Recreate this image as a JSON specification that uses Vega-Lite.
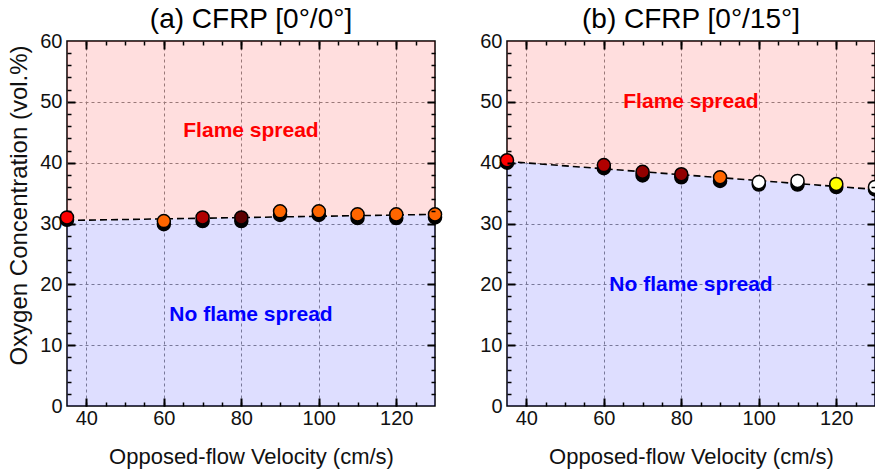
{
  "$schema": "https://vega.github.io/schema/vega-lite/v6.json",
  "autosize": {"type": "pad"},
  "padding": {"left": 7, "top": 5, "right": 0, "bottom": 3},
  "background": "white",
  "config": {
    "font": "Liberation Sans",
    "view": {"stroke": "black", "strokeWidth": 1.5},
    "title": {"fontSize": 28, "fontWeight": "normal", "font": "Liberation Sans", "color": "black", "offset": -3},
    "axis": {
      "labelFont": "Liberation Sans", "labelFontSize": 20, "labelColor": "#111",
      "titleFont": "Liberation Sans", "titleFontSize": 22, "titleFontWeight": "normal", "titleColor": "#111",
      "domain": false, "tickColor": "black", "tickWidth": 1.5, "tickOpacity": 1,
      "gridColor": "#8a8a8a", "gridDash": [3, 3], "gridWidth": 1
    }
  },
  "datasets": {
    "boundary": [
      {"p": "a", "v": 35, "o": 30.5},
      {"p": "a", "v": 130, "o": 31.5},
      {"p": "b", "v": 35, "o": 40.2},
      {"p": "b", "v": 130, "o": 35.6}
    ],
    "points": [
      {"p": "a", "v": 35, "o": 30.6, "s": "none"},
      {"p": "a", "v": 60, "o": 29.9, "s": "none"},
      {"p": "a", "v": 70, "o": 30.4, "s": "none"},
      {"p": "a", "v": 80, "o": 30.4, "s": "none"},
      {"p": "a", "v": 90, "o": 31.4, "s": "none"},
      {"p": "a", "v": 100, "o": 31.4, "s": "none"},
      {"p": "a", "v": 110, "o": 30.9, "s": "none"},
      {"p": "a", "v": 120, "o": 30.9, "s": "none"},
      {"p": "a", "v": 130, "o": 31.0, "s": "none"},
      {"p": "a", "v": 35, "o": 31.0, "s": "spread", "flame": "red"},
      {"p": "a", "v": 60, "o": 30.4, "s": "spread", "flame": "orange"},
      {"p": "a", "v": 70, "o": 31.0, "s": "spread", "flame": "crimson"},
      {"p": "a", "v": 80, "o": 31.0, "s": "spread", "flame": "maroon"},
      {"p": "a", "v": 90, "o": 32.0, "s": "spread", "flame": "orange"},
      {"p": "a", "v": 100, "o": 32.0, "s": "spread", "flame": "orange"},
      {"p": "a", "v": 110, "o": 31.5, "s": "spread", "flame": "orange"},
      {"p": "a", "v": 120, "o": 31.5, "s": "spread", "flame": "orange"},
      {"p": "a", "v": 130, "o": 31.5, "s": "spread", "flame": "orange"},
      {"p": "b", "v": 35, "o": 40.0, "s": "none"},
      {"p": "b", "v": 60, "o": 39.1, "s": "none"},
      {"p": "b", "v": 70, "o": 37.9, "s": "none"},
      {"p": "b", "v": 80, "o": 37.6, "s": "none"},
      {"p": "b", "v": 90, "o": 37.0, "s": "none"},
      {"p": "b", "v": 100, "o": 36.4, "s": "none"},
      {"p": "b", "v": 110, "o": 36.4, "s": "none"},
      {"p": "b", "v": 120, "o": 36.0, "s": "none"},
      {"p": "b", "v": 130, "o": 35.6, "s": "none"},
      {"p": "b", "v": 35, "o": 40.4, "s": "spread", "flame": "red"},
      {"p": "b", "v": 60, "o": 39.6, "s": "spread", "flame": "crimson"},
      {"p": "b", "v": 70, "o": 38.5, "s": "spread", "flame": "darkred"},
      {"p": "b", "v": 80, "o": 38.1, "s": "spread", "flame": "darkred"},
      {"p": "b", "v": 90, "o": 37.6, "s": "spread", "flame": "orange"},
      {"p": "b", "v": 100, "o": 36.8, "s": "spread", "flame": "white"},
      {"p": "b", "v": 110, "o": 37.0, "s": "spread", "flame": "white"},
      {"p": "b", "v": 120, "o": 36.5, "s": "spread", "flame": "yellow"},
      {"p": "b", "v": 130, "o": 36.0, "s": "spread", "flame": "white"}
    ],
    "labels": [
      {"p": "a", "v": 82.5, "o": 44.2, "text": "Flame spread", "kind": "spread"},
      {"p": "a", "v": 82.5, "o": 14.0, "text": "No flame spread", "kind": "none"},
      {"p": "b", "v": 82.5, "o": 49.0, "text": "Flame spread", "kind": "spread"},
      {"p": "b", "v": 82.5, "o": 18.9, "text": "No flame spread", "kind": "none"}
    ]
  },
  "spacing": 72,
  "bounds": "flush",
  "hconcat": [
    {
      "title": "(a) CFRP [0°/0°]",
      "width": 368,
      "height": 365,
      "resolve": {"axis": {"x": "independent", "y": "independent"}},
      "layer": [
        {
          "data": {"name": "boundary"},
          "transform": [{"filter": "datum.p == 'a'"}],
          "mark": {"type": "area", "color": "#ff0000", "opacity": 0.13},
          "encoding": {
            "x": {"field": "v", "type": "quantitative", "scale": {"domain": [35, 130], "nice": false, "zero": false},
              "axis": {"orient": "bottom", "title": null, "values": [40, 60, 80, 100, 120], "grid": true, "ticks": false, "labels": false, "minExtent": 0, "maxExtent": 0}},
            "y": {"field": "o", "type": "quantitative", "scale": {"domain": [0, 60], "nice": false, "zero": false},
              "axis": {"orient": "left", "title": null, "values": [10, 20, 30, 40, 50], "grid": true, "ticks": false, "labels": false, "minExtent": 0, "maxExtent": 0}},
            "y2": {"datum": 60}
          }
        },
        {
          "data": {"name": "boundary"},
          "transform": [{"filter": "datum.p == 'a'"}],
          "mark": {"type": "area", "color": "#0000ff", "opacity": 0.13},
          "encoding": {
            "x": {"field": "v", "type": "quantitative", "scale": {"domain": [35, 130], "nice": false, "zero": false},
              "axis": {"orient": "top", "title": null, "zindex": 1, "values": [40, 45, 50, 55, 60, 65, 70, 75, 80, 85, 90, 95, 100, 105, 110, 115, 120, 125], "grid": false, "labels": false, "ticks": true, "tickColor": "black", "tickWidth": 1.5, "tickSize": 4, "offset": -4, "minExtent": 0, "maxExtent": 0}},
            "y": {"field": "o", "type": "quantitative", "scale": {"domain": [0, 60], "nice": false, "zero": false},
              "axis": {"orient": "right", "title": null, "zindex": 1, "values": [2, 4, 6, 8, 12, 14, 16, 18, 22, 24, 26, 28, 32, 34, 36, 38, 42, 44, 46, 48, 52, 54, 56, 58], "grid": false, "labels": false, "ticks": true, "tickColor": "black", "tickWidth": 1.5, "tickSize": 4, "offset": -4, "minExtent": 0, "maxExtent": 0}},
            "y2": {"datum": 0}
          }
        },
        {
          "data": {"name": "boundary"},
          "transform": [{"filter": "datum.p == 'a'"}],
          "mark": {"type": "line", "color": "black", "strokeWidth": 1.6, "strokeDash": [7, 4]},
          "encoding": {
            "x": {"field": "v", "type": "quantitative",
              "axis": {"orient": "bottom", "title": null, "zindex": 1, "values": [40, 45, 50, 55, 60, 65, 70, 75, 80, 85, 90, 95, 100, 105, 110, 115, 120, 125], "grid": false, "labels": false, "ticks": true, "tickColor": "black", "tickWidth": 1.5, "tickSize": 4, "offset": -4, "minExtent": 0, "maxExtent": 0}},
            "y": {"field": "o", "type": "quantitative",
              "axis": {"orient": "left", "title": null, "zindex": 1, "values": [2, 4, 6, 8, 12, 14, 16, 18, 22, 24, 26, 28, 32, 34, 36, 38, 42, 44, 46, 48, 52, 54, 56, 58], "grid": false, "labels": false, "ticks": true, "tickColor": "black", "tickWidth": 1.5, "tickSize": 4, "offset": -4, "minExtent": 0, "maxExtent": 0}}
          }
        },
        {
          "data": {"name": "points"},
          "transform": [{"filter": "datum.p == 'a' && datum.s == 'none'"}],
          "mark": {"type": "point", "shape": "circle", "filled": true, "fill": "black", "stroke": "black", "strokeWidth": 1.5, "size": 170, "opacity": 1},
          "encoding": {
            "x": {"field": "v", "type": "quantitative",
              "axis": {"orient": "top", "title": null, "zindex": 1, "values": [40, 60, 80, 100, 120], "grid": false, "labels": false, "ticks": true, "tickColor": "black", "tickWidth": 2, "tickSize": 8, "offset": -8, "minExtent": 0, "maxExtent": 0}},
            "y": {"field": "o", "type": "quantitative",
              "axis": {"orient": "right", "title": null, "zindex": 1, "values": [10, 20, 30, 40, 50], "grid": false, "labels": false, "ticks": true, "tickColor": "black", "tickWidth": 2, "tickSize": 8, "offset": -8, "minExtent": 0, "maxExtent": 0}}
          }
        },
        {
          "data": {"name": "points"},
          "transform": [{"filter": "datum.p == 'a' && datum.s == 'spread'"}],
          "mark": {"type": "point", "shape": "circle", "filled": true, "stroke": "black", "strokeWidth": 1.5, "size": 170, "opacity": 1},
          "encoding": {
            "x": {"field": "v", "type": "quantitative",
              "axis": {"orient": "bottom", "title": "Opposed-flow Velocity (cm/s)", "values": [40, 60, 80, 100, 120], "grid": false, "ticks": false, "labelPadding": 2, "titlePadding": 18.5}},
            "y": {"field": "o", "type": "quantitative",
              "axis": {"orient": "left", "title": "Oxygen Concentration (vol.%)", "titleFontSize": 24, "values": [0, 10, 20, 30, 40, 50, 60], "grid": false, "ticks": false, "labelPadding": 5, "titlePadding": 8, "titleY": 164}},
            "fill": {"field": "flame", "type": "nominal", "legend": null,
              "scale": {"domain": ["red", "orange", "crimson", "maroon", "darkred", "white", "yellow"],
                "range": ["#ff0000", "#ff6600", "#b00000", "#5c0000", "#900000", "#ffffff", "#ffff00"]}}
          }
        },
        {
          "data": {"name": "labels"},
          "transform": [{"filter": "datum.p == 'a'"}],
          "mark": {"type": "text", "font": "Liberation Sans", "fontSize": 21, "fontWeight": "bold", "baseline": "alphabetic", "align": "center"},
          "encoding": {
            "x": {"field": "v", "type": "quantitative",
              "axis": {"orient": "bottom", "title": null, "zindex": 1, "values": [40, 60, 80, 100, 120], "grid": false, "labels": false, "ticks": true, "tickColor": "black", "tickWidth": 2, "tickSize": 8, "offset": -8, "minExtent": 0, "maxExtent": 0}},
            "y": {"field": "o", "type": "quantitative",
              "axis": {"orient": "left", "title": null, "zindex": 1, "values": [10, 20, 30, 40, 50], "grid": false, "labels": false, "ticks": true, "tickColor": "black", "tickWidth": 2, "tickSize": 8, "offset": -8, "minExtent": 0, "maxExtent": 0}},
            "text": {"field": "text"},
            "color": {"field": "kind", "type": "nominal", "legend": null,
              "scale": {"domain": ["spread", "none"], "range": ["#ff0000", "#0000ff"]}}
          }
        }
      ]
    },
    {
      "title": "(b) CFRP [0°/15°]",
      "width": 368,
      "height": 365,
      "resolve": {"axis": {"x": "independent", "y": "independent"}},
      "layer": [
        {
          "data": {"name": "boundary"},
          "transform": [{"filter": "datum.p == 'b'"}],
          "mark": {"type": "area", "color": "#ff0000", "opacity": 0.13},
          "encoding": {
            "x": {"field": "v", "type": "quantitative", "scale": {"domain": [35, 130], "nice": false, "zero": false},
              "axis": {"orient": "bottom", "title": null, "values": [40, 60, 80, 100, 120], "grid": true, "ticks": false, "labels": false, "minExtent": 0, "maxExtent": 0}},
            "y": {"field": "o", "type": "quantitative", "scale": {"domain": [0, 60], "nice": false, "zero": false},
              "axis": {"orient": "left", "title": null, "values": [10, 20, 30, 40, 50], "grid": true, "ticks": false, "labels": false, "minExtent": 0, "maxExtent": 0}},
            "y2": {"datum": 60}
          }
        },
        {
          "data": {"name": "boundary"},
          "transform": [{"filter": "datum.p == 'b'"}],
          "mark": {"type": "area", "color": "#0000ff", "opacity": 0.13},
          "encoding": {
            "x": {"field": "v", "type": "quantitative", "scale": {"domain": [35, 130], "nice": false, "zero": false},
              "axis": {"orient": "top", "title": null, "zindex": 1, "values": [40, 45, 50, 55, 60, 65, 70, 75, 80, 85, 90, 95, 100, 105, 110, 115, 120, 125], "grid": false, "labels": false, "ticks": true, "tickColor": "black", "tickWidth": 1.5, "tickSize": 4, "offset": -4, "minExtent": 0, "maxExtent": 0}},
            "y": {"field": "o", "type": "quantitative", "scale": {"domain": [0, 60], "nice": false, "zero": false},
              "axis": {"orient": "right", "title": null, "zindex": 1, "values": [2, 4, 6, 8, 12, 14, 16, 18, 22, 24, 26, 28, 32, 34, 36, 38, 42, 44, 46, 48, 52, 54, 56, 58], "grid": false, "labels": false, "ticks": true, "tickColor": "black", "tickWidth": 1.5, "tickSize": 4, "offset": -4, "minExtent": 0, "maxExtent": 0}},
            "y2": {"datum": 0}
          }
        },
        {
          "data": {"name": "boundary"},
          "transform": [{"filter": "datum.p == 'b'"}],
          "mark": {"type": "line", "color": "black", "strokeWidth": 1.6, "strokeDash": [7, 4]},
          "encoding": {
            "x": {"field": "v", "type": "quantitative",
              "axis": {"orient": "bottom", "title": null, "zindex": 1, "values": [40, 45, 50, 55, 60, 65, 70, 75, 80, 85, 90, 95, 100, 105, 110, 115, 120, 125], "grid": false, "labels": false, "ticks": true, "tickColor": "black", "tickWidth": 1.5, "tickSize": 4, "offset": -4, "minExtent": 0, "maxExtent": 0}},
            "y": {"field": "o", "type": "quantitative",
              "axis": {"orient": "left", "title": null, "zindex": 1, "values": [2, 4, 6, 8, 12, 14, 16, 18, 22, 24, 26, 28, 32, 34, 36, 38, 42, 44, 46, 48, 52, 54, 56, 58], "grid": false, "labels": false, "ticks": true, "tickColor": "black", "tickWidth": 1.5, "tickSize": 4, "offset": -4, "minExtent": 0, "maxExtent": 0}}
          }
        },
        {
          "data": {"name": "points"},
          "transform": [{"filter": "datum.p == 'b' && datum.s == 'none'"}],
          "mark": {"type": "point", "shape": "circle", "filled": true, "fill": "black", "stroke": "black", "strokeWidth": 1.5, "size": 170, "opacity": 1},
          "encoding": {
            "x": {"field": "v", "type": "quantitative",
              "axis": {"orient": "top", "title": null, "zindex": 1, "values": [40, 60, 80, 100, 120], "grid": false, "labels": false, "ticks": true, "tickColor": "black", "tickWidth": 2, "tickSize": 8, "offset": -8, "minExtent": 0, "maxExtent": 0}},
            "y": {"field": "o", "type": "quantitative",
              "axis": {"orient": "right", "title": null, "zindex": 1, "values": [10, 20, 30, 40, 50], "grid": false, "labels": false, "ticks": true, "tickColor": "black", "tickWidth": 2, "tickSize": 8, "offset": -8, "minExtent": 0, "maxExtent": 0}}
          }
        },
        {
          "data": {"name": "points"},
          "transform": [{"filter": "datum.p == 'b' && datum.s == 'spread'"}],
          "mark": {"type": "point", "shape": "circle", "filled": true, "stroke": "black", "strokeWidth": 1.5, "size": 170, "opacity": 1},
          "encoding": {
            "x": {"field": "v", "type": "quantitative",
              "axis": {"orient": "bottom", "title": "Opposed-flow Velocity (cm/s)", "values": [40, 60, 80, 100, 120], "grid": false, "ticks": false, "labelPadding": 2, "titlePadding": 18.5}},
            "y": {"field": "o", "type": "quantitative",
              "axis": {"orient": "left", "title": null, "values": [0, 10, 20, 30, 40, 50, 60], "grid": false, "ticks": false, "labelPadding": 5}},
            "fill": {"field": "flame", "type": "nominal", "legend": null,
              "scale": {"domain": ["red", "orange", "crimson", "maroon", "darkred", "white", "yellow"],
                "range": ["#ff0000", "#ff6600", "#b00000", "#5c0000", "#900000", "#ffffff", "#ffff00"]}}
          }
        },
        {
          "data": {"name": "labels"},
          "transform": [{"filter": "datum.p == 'b'"}],
          "mark": {"type": "text", "font": "Liberation Sans", "fontSize": 21, "fontWeight": "bold", "baseline": "alphabetic", "align": "center"},
          "encoding": {
            "x": {"field": "v", "type": "quantitative",
              "axis": {"orient": "bottom", "title": null, "zindex": 1, "values": [40, 60, 80, 100, 120], "grid": false, "labels": false, "ticks": true, "tickColor": "black", "tickWidth": 2, "tickSize": 8, "offset": -8, "minExtent": 0, "maxExtent": 0}},
            "y": {"field": "o", "type": "quantitative",
              "axis": {"orient": "left", "title": null, "zindex": 1, "values": [10, 20, 30, 40, 50], "grid": false, "labels": false, "ticks": true, "tickColor": "black", "tickWidth": 2, "tickSize": 8, "offset": -8, "minExtent": 0, "maxExtent": 0}},
            "text": {"field": "text"},
            "color": {"field": "kind", "type": "nominal", "legend": null,
              "scale": {"domain": ["spread", "none"], "range": ["#ff0000", "#0000ff"]}}
          }
        }
      ]
    }
  ]
}
